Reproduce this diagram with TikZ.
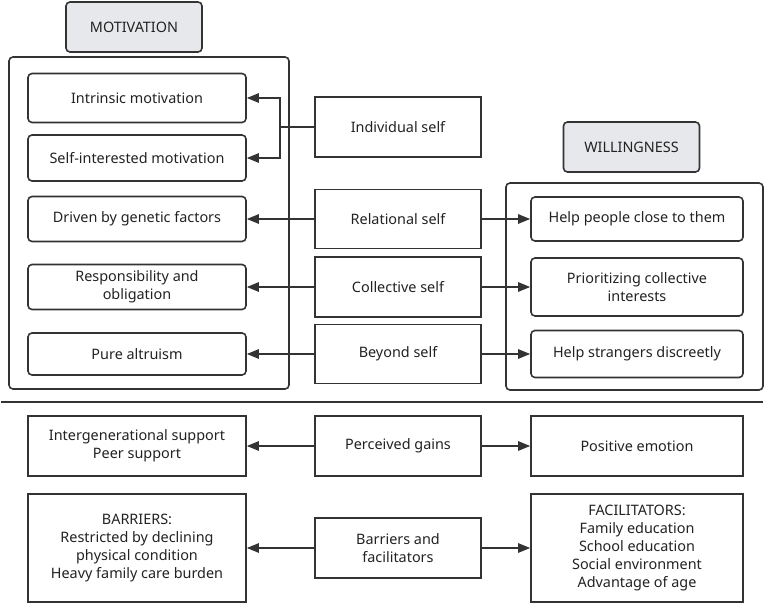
\documentclass[tikz,border=0pt]{standalone}
\usepackage{fontspec}
\setmainfont{Noto Sans}
\usetikzlibrary{arrows.meta}
\definecolor{ln}{HTML}{333333}
\definecolor{tagfill}{HTML}{E6E8EB}
\definecolor{txt}{HTML}{222222}
\tikzset{
  base/.style={draw=ln, line width=1.2pt, text=txt, align=center, font=\fontsize{10.8}{13.5}\selectfont, inner sep=2pt},
  rbox/.style={base, rounded corners=3pt},
  sbox/.style={base},
  tagbox/.style={base, rounded corners=3pt, fill=tagfill, minimum width=102pt, minimum height=37.5pt},
  lw/.style={minimum width=163.5pt},
  mw/.style={minimum width=124.5pt},
  rw/.style={minimum width=159pt},
  arr/.style={draw=ln, line width=1.2pt, -{Triangle[length=9pt,width=7pt]}},
  ln/.style={draw=ln, line width=1.2pt}
}
\begin{document}
\begin{tikzpicture}[x=0.75pt,y=-0.75pt]
\useasboundingbox (0,0) rectangle (767,606);
% group frames
\draw[ln, rounded corners=3pt] (9,57) rectangle (289,389);
\draw[ln, rounded corners=3pt] (506,183) rectangle (763,390);
% tags
\node[tagbox] (mot) at (134,27) {MOTIVATION};
\node[tagbox] (wil) at (631.5,147) {WILLINGNESS};
% left column
\node[rbox, lw, minimum height=36.75pt] (intr) at (137,98) {Intrinsic motivation};
\node[rbox, lw, minimum height=34.5pt] (selfi) at (137,158) {Self-interested motivation};
\node[rbox, lw, minimum height=33.75pt] (gen) at (137,219) {Driven by genetic factors};
\node[rbox, lw, minimum height=33.75pt] (resp) at (137,287) {Responsibility and\\obligation};
\node[rbox, lw, minimum height=31.5pt] (pure) at (137,354) {Pure altruism};
% middle column
\node[sbox, mw, minimum height=45pt] (ind) at (398,127) {Individual self};
\node[sbox, mw, minimum height=44.25pt] (rel) at (398,219) {Relational self};
\node[sbox, mw, minimum height=45pt] (col) at (398,287) {Collective self};
\node[sbox, mw, minimum height=44.25pt] (bey) at (398,354) {Beyond self};
% right column
\node[rbox, rw, minimum height=33pt] (close) at (637,219) {Help people close to them};
\node[rbox, rw, minimum height=43.5pt] (prio) at (637,287) {Prioritizing collective\\interests};
\node[rbox, rw, minimum height=35.25pt] (strg) at (637,354) {Help strangers discreetly};
% connectors top
\coordinate (j) at (280,127);
\draw[ln] (ind.west) -- (j);
\draw[arr] (j) |- (intr.east);
\draw[arr] (j) |- (selfi.east);
\draw[arr] (rel.west) -- (rel.west -| gen.east);
\draw[arr] (col.west) -- (col.west -| resp.east);
\draw[arr] (bey.west) -- (bey.west -| pure.east);
\draw[arr] (rel.east) -- (rel.east -| close.west);
\draw[arr] (col.east) -- (col.east -| prio.west);
\draw[arr] (bey.east) -- (bey.east -| strg.west);
% separator
\coordinate (s1) at (1,402);
\coordinate (s2) at (763,402);
\draw[ln] (s1) -- (s2);
% bottom
\node[sbox, lw, minimum height=45pt] (inter) at (137,446) {Intergenerational support\\Peer support};
\node[sbox, mw, minimum height=45pt] (gain) at (398,446) {Perceived gains};
\node[sbox, rw, minimum height=45pt] (pos) at (637,446) {Positive emotion};
\node[sbox, lw, minimum height=81pt] (barr) at (137,548) {BARRIERS:\\Restricted by declining\\physical condition\\Heavy family care burden};
\node[sbox, mw, minimum height=45pt] (bf) at (398,548) {Barriers and\\facilitators};
\node[sbox, rw, minimum height=81pt] (fac) at (637,548) {FACILITATORS:\\Family education\\School education\\Social environment\\Advantage of age};
\draw[arr] (gain.west) -- (gain.west -| inter.east);
\draw[arr] (gain.east) -- (gain.east -| pos.west);
\draw[arr] (bf.west) -- (bf.west -| barr.east);
\draw[arr] (bf.east) -- (bf.east -| fac.west);
\end{tikzpicture}
\end{document}
